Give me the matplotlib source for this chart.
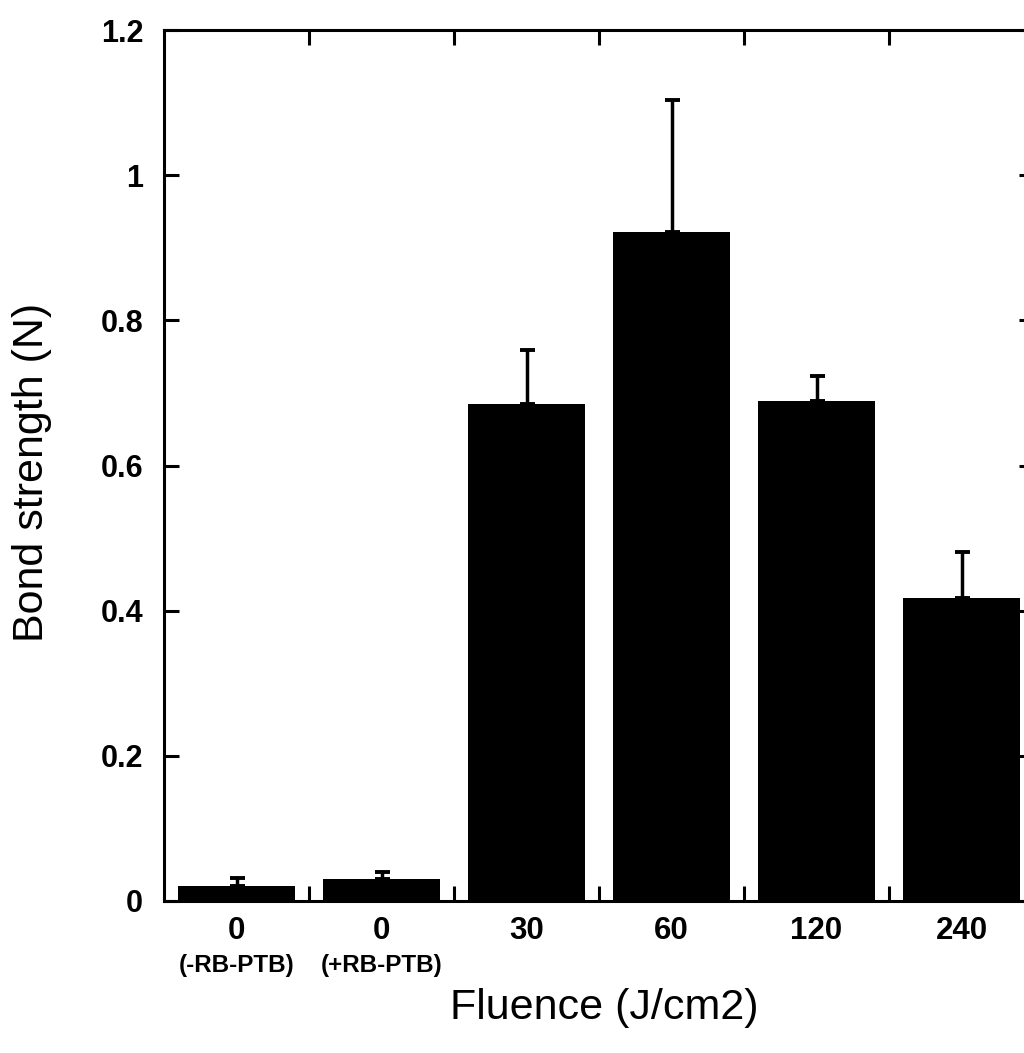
import matplotlib
matplotlib.use("Agg")
import matplotlib.pyplot as plt
import numpy as np

plt.rcParams['font.family'] = ['Liberation Sans', 'DejaVu Sans']

# data
fluence = ["0", "0", "30", "60", "120", "240"]
sub_labels = ["(-RB-PTB)", "(+RB-PTB)", "", "", "", ""]
bond_strength = [0.020, 0.030, 0.685, 0.922, 0.689, 0.418]
err_up = [0.011, 0.010, 0.074, 0.182, 0.034, 0.063]
y_ticks = [0, 0.2, 0.4, 0.6, 0.8, 1.0, 1.2]
y_tick_labels = ["0", "0.2", "0.4", "0.6", "0.8", "1", "1.2"]

fig = plt.figure(figsize=(10.24, 10.53), dpi=100)
ax = fig.add_axes([164 / 1024, 152 / 1053, 870 / 1024, 871 / 1053])

x = np.arange(len(fluence))
ax.bar(x, bond_strength, width=0.81, color="black", edgecolor="black", linewidth=0)
ax.errorbar(x, bond_strength, yerr=[np.zeros(len(err_up)), err_up], fmt="none",
            ecolor="black", elinewidth=2.5, capsize=5.4, capthick=2.8)

ax.set_xlim(-0.5, 5.5)
ax.set_ylim(0, 1.2)

lw = 2.2
for s in ax.spines.values():
    s.set_linewidth(lw)

ax.set_yticks(y_ticks)
ax.set_yticklabels(y_tick_labels, fontsize=22, fontweight="bold")
ax.tick_params(axis="y", which="major", direction="in", length=11, width=lw,
               left=True, right=True, pad=15)

ax.set_xticks(x)
ax.set_xticklabels(fluence, fontsize=22.5, fontweight="bold")
ax.set_xticks(x[:-1] + 0.5, minor=True)
ax.tick_params(axis="x", which="major", length=0, pad=11)
ax.tick_params(axis="x", which="minor", direction="in", length=11, width=lw,
               bottom=True, top=True)

trans = ax.get_xaxis_transform()
for xi, s in zip(x, sub_labels):
    if s:
        ax.text(xi, -0.074, s, transform=trans, ha="center", va="center",
                fontsize=17.5, fontweight="bold")

fig.text(604 / 1024, 1 - 1008 / 1053, "Fluence (J/cm2)", ha="center", va="center",
         fontsize=31)
fig.text(32 / 1024, 1 - 472 / 1053, "Bond strength (N)", ha="center", va="center",
         rotation=90, fontsize=31)

fig.savefig("out.png", dpi=100)
